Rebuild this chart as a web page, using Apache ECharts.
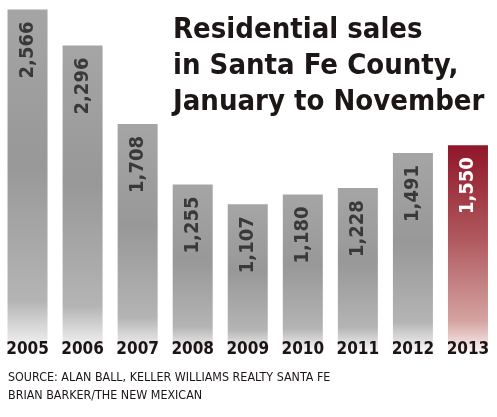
<!DOCTYPE html>
<html><head><meta charset="utf-8">
<script src="https://cdn.jsdelivr.net/npm/echarts@6/dist/echarts.min.js"></script>
<style>html,body{margin:0;padding:0;background:#fff}#c{width:497px;height:417px}</style>
</head><body><div id="c"></div>
<script>
const years = ['2005','2006','2007','2008','2009','2010','2011','2012','2013'];
const sales = [2566, 2296, 1708, 1255, 1107, 1180, 1228, 1491, 1550];
const highlightYear = '2013';
const titleLines = ['Residential sales', 'in Santa Fe County,', 'January to November'];
const sourceLines = ['SOURCE: ALAN BALL, KELLER WILLIAMS REALTY SANTA FE', 'BRIAN BARKER/THE NEW MEXICAN'];

const FONT = '"DejaVu Sans Condensed", "DejaVu Sans", sans-serif';
const grayGrad = new echarts.graphic.LinearGradient(0,0,0,1,[
  {offset:0,color:'#a5a5a5'},{offset:0.45,color:'#989898'},{offset:0.85,color:'#b4b4b4'},{offset:1,color:'#fafafa'}]);
const redGrad = new echarts.graphic.LinearGradient(0,0,0,1,[
  {offset:0,color:'#901629'},{offset:0.45,color:'#b0585d'},{offset:0.85,color:'#d4a3a1'},{offset:1,color:'#fbf3f3'}]);

const data = sales.map((v,i)=>{
  const hi = years[i]===highlightYear;
  return {value:v, itemStyle:{color: hi?redGrad:grayGrad},
    label:{color: hi?'#ffffff':'#3a3838'}};
});

const chart = echarts.init(document.getElementById('c'), null, {renderer:'canvas'});
chart.setOption({
  animation:false,
  title:[
    {text:titleLines.join('\n'), left:168, top:7, padding:5,
     textStyle:{fontFamily:FONT, fontWeight:'bold', fontSize:29, lineHeight:36, color:'#1c1616'}},
    {text:sourceLines.join('\n'), left:3, top:364,
     textStyle:{fontFamily:'"Liberation Sans Narrow", "DejaVu Sans Condensed", sans-serif', fontWeight:'normal', fontSize:12.4, lineHeight:18, color:'#1c1616'}}
  ],
  grid:{left:0, right:1.5, top:5, bottom:65, containLabel:false},
  xAxis:{type:'category', data:years, axisLine:{show:false}, axisTick:{show:false},
    axisLabel:{interval:0, margin:-11, fontFamily:FONT, fontWeight:'bold', fontSize:17, color:'#1c1414'}, z:10},
  yAxis:{type:'value', min:0, max:2600, show:false, splitLine:{show:false}},
  series:[{type:'bar', data:data, barWidth:40, z:2,
    label:{show:true, position:'insideTop', distance:12, rotate:90, align:'right', verticalAlign:'middle',
      fontFamily:FONT, fontWeight:'bold', fontSize:20,
      formatter:p=>p.value.toLocaleString('en-US')}}]
});
</script></body></html>
